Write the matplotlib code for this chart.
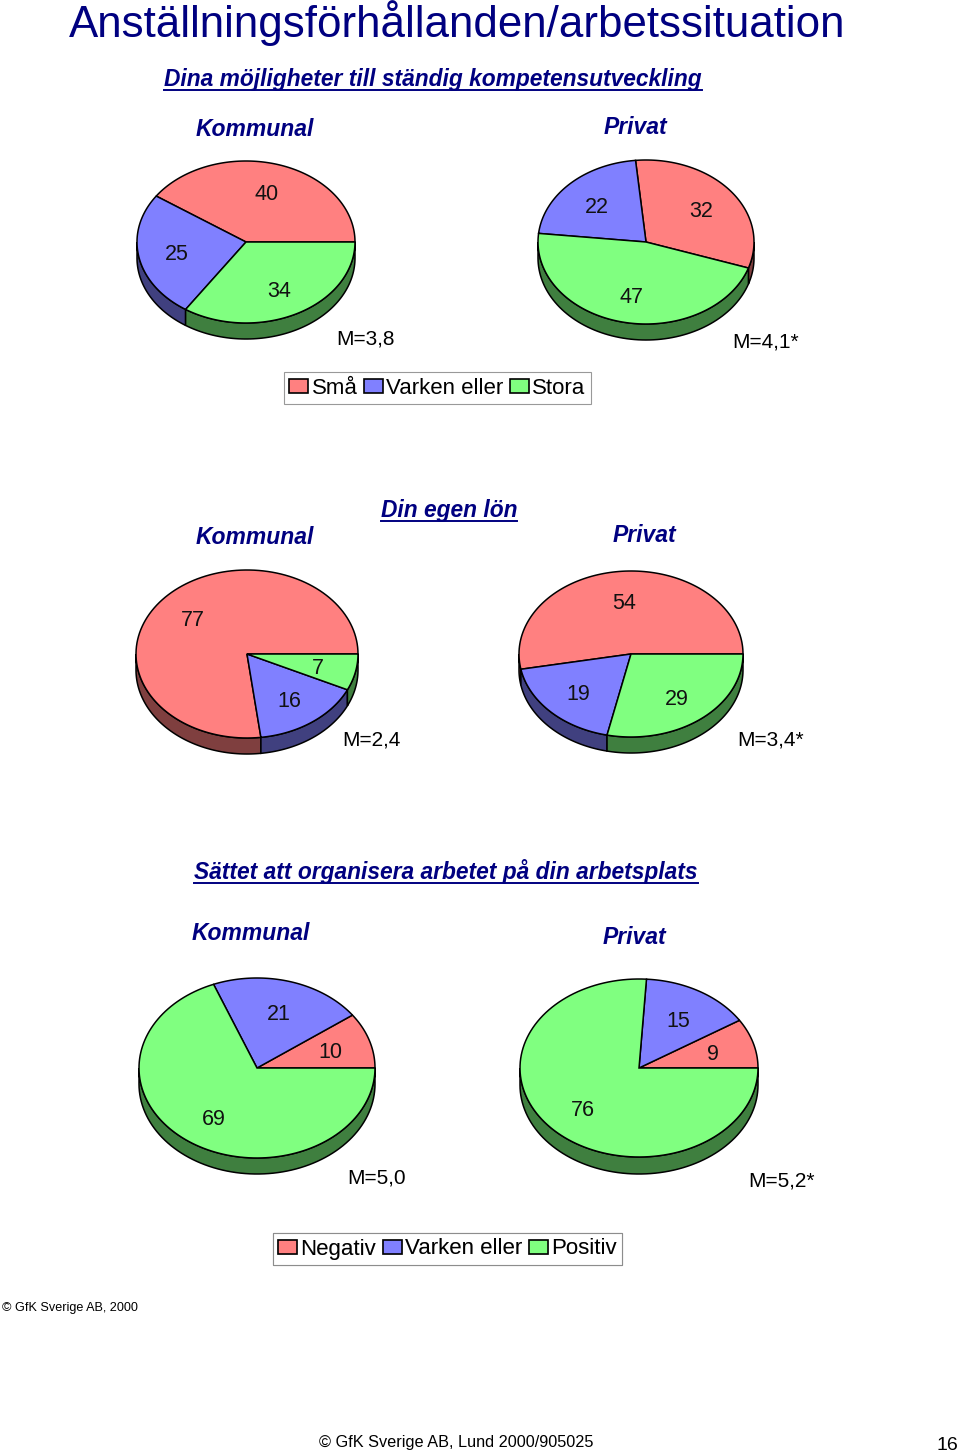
import numpy as np
import matplotlib
matplotlib.use("Agg")
import matplotlib.pyplot as plt
from matplotlib.patches import Polygon, Patch

plt.rcParams['font.family'] = ['Liberation Sans', 'DejaVu Sans']

# data
title = "Anställningsförhållanden/arbetssituation"
sections = ["Dina möjligheter till ständig kompetensutveckling",
            "Din egen lön",
            "Sättet att organisera arbetet på din arbetsplats"]
groups = ["Kommunal", "Privat"]

komp_kommunal = [40, 25, 34]
komp_privat = [32, 22, 47]
lon_kommunal = [77, 16, 7]
lon_privat = [54, 19, 29]
org_kommunal = [10, 21, 69]
org_privat = [9, 15, 76]

means = ["M=3,8", "M=4,1*", "M=2,4", "M=3,4*", "M=5,0", "M=5,2*"]
legend1 = ["Små", "Varken eller", "Stora"]
legend2 = ["Negativ", "Varken eller", "Positiv"]

# style
navy = '#000080'
tops = ['#ff8080', '#8080ff', '#80ff80']
sides = ['#7f3f3f', '#40407f', '#3f7f3f']

fig = plt.figure(figsize=(9.6, 14.54), dpi=100)
ax = fig.add_axes([0, 0, 1, 1])
ax.set_xlim(0, 960)
ax.set_ylim(1454, 0)
ax.axis('off')


def pie3d(cx, cy, rx, ry, depth, values, start=0.0):
    vals = np.asarray(values, dtype=float)
    edges = start + 360 * np.concatenate([[0], np.cumsum(vals) / vals.sum()])
    # side walls, front half only
    for i in range(len(vals)):
        a0, a1 = edges[i], edges[i + 1]
        for k in range(-1, 3):
            lo = max(a0, 180 + 360 * k)
            hi = min(a1, 360 + 360 * k)
            if hi <= lo:
                continue
            t = np.radians(np.linspace(lo, hi, 80))
            xs = cx + rx * np.cos(t)
            ys = cy - ry * np.sin(t)
            pts = np.column_stack([np.r_[xs, xs[::-1]],
                                   np.r_[ys, ys[::-1] + depth]])
            ax.add_patch(Polygon(pts, closed=True, facecolor=sides[i],
                                 edgecolor='black', lw=1.1, zorder=2))
    # top faces
    for i in range(len(vals)):
        t = np.radians(np.linspace(edges[i], edges[i + 1], 120))
        pts = np.column_stack([np.r_[cx, cx + rx * np.cos(t)],
                               np.r_[cy, cy - ry * np.sin(t)]])
        ax.add_patch(Polygon(pts, closed=True, facecolor=tops[i],
                             edgecolor='black', lw=1.1, zorder=3))
        mid = np.radians((edges[i] + edges[i + 1]) / 2)
        ax.text(cx + 0.65 * rx * np.cos(mid), cy - 0.65 * ry * np.sin(mid) + 3,
                f"{values[i]:g}", ha='center', va='center', fontsize=15.5,
                color='#111111', zorder=4)


pie3d(246, 242, 109, 81, 16, komp_kommunal)
pie3d(646, 242, 108, 82, 16, komp_privat, start=-18.5)
pie3d(247, 654, 111, 84, 16, lon_kommunal)
pie3d(631, 654, 112, 83, 16, lon_privat)
pie3d(257, 1068, 118, 90, 16, org_kommunal)
pie3d(639, 1068, 119, 89, 17, org_privat)

# mean labels
mean_pos = [(365, 339), (766, 342), (371, 740), (771, 740), (377, 1178), (781, 1181)]
for (x, y), s in zip(mean_pos, means):
    ax.text(x, y, s, ha='center', va='center', fontsize=15, color='black')

# titles
ax.text(457, 23, title, ha='center', va='center', fontsize=31.6, color=navy)

sec_pos = [(433, 86), (449, 517), (446, 879)]
sec_texts = []
for (x, y), s in zip(sec_pos, sections):
    sec_texts.append(ax.text(x, y, s, ha='center', va='baseline', fontsize=16.4,
                             fontweight='bold', fontstyle='italic', color=navy))

grp_pos = [(255, 130), (635, 128), (255, 537), (644, 535), (251, 933), (634, 937)]
for j, (x, y) in enumerate(grp_pos):
    ax.text(x, y, groups[j % 2], ha='center', va='center', fontsize=16.5,
            fontweight='bold', fontstyle='italic', color=navy)

# underline the section titles
fig.canvas.draw()
r = fig.canvas.get_renderer()
for t, (x, y) in zip(sec_texts, sec_pos):
    bb = t.get_window_extent(renderer=r)
    x0 = ax.transData.inverted().transform((bb.x0, 0))[0]
    x1 = ax.transData.inverted().transform((bb.x1, 0))[0]
    ax.plot([x0, x1], [y + 4, y + 4], color=navy, lw=1.4)

# legends
for labels, (lx, ly) in [(legend1, (437.5, 388)), (legend2, (447.5, 1249))]:
    handles = [Patch(facecolor=c, edgecolor='black', lw=1.2) for c in tops]
    leg = ax.legend(handles, labels, ncol=3, loc='center',
                    bbox_to_anchor=(lx / 960, 1 - ly / 1454), fontsize=16,
                    frameon=True, fancybox=False, edgecolor='#808080',
                    handlelength=0.85, handleheight=0.6, handletextpad=0.15,
                    columnspacing=0.3, borderpad=0.25, borderaxespad=0)
    leg.get_frame().set_linewidth(0.8)
    ax.add_artist(leg)

# footers
ax.text(2, 1308, "© GfK Sverige AB, 2000", ha='left', va='center', fontsize=9.1)
ax.text(456, 1443, "© GfK Sverige AB, Lund 2000/905025", ha='center',
        va='center', fontsize=11.7)
ax.text(958, 1445, "16", ha='right', va='center', fontsize=14)

fig.savefig('out.png', dpi=100)
